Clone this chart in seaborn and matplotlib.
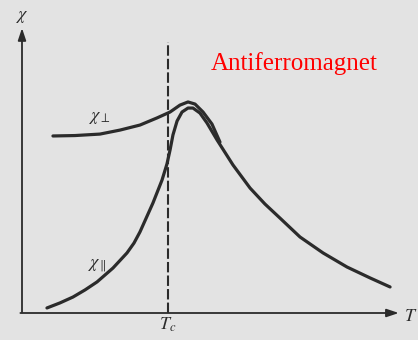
import matplotlib
matplotlib.use("Agg")
import matplotlib.pyplot as plt
import seaborn as sns
import pandas as pd

# temperature in units of Tc, susceptibility in arbitrary units
T_par = [0.171, 0.260, 0.349, 0.432, 0.514, 0.623, 0.719, 0.767, 0.808, 0.897,
         0.959, 0.993, 1.014, 1.034, 1.062, 1.096, 1.137, 1.171, 1.219, 1.267,
         1.336, 1.445, 1.562, 1.664, 1.767, 1.904, 2.062, 2.226, 2.384, 2.521]
chi_par = [0.024, 0.048, 0.076, 0.110, 0.148, 0.214, 0.286, 0.333, 0.386, 0.524,
           0.633, 0.710, 0.776, 0.848, 0.914, 0.957, 0.976, 0.976, 0.952, 0.905,
           0.824, 0.705, 0.595, 0.519, 0.452, 0.362, 0.286, 0.219, 0.167, 0.124]
T_perp = [0.212, 0.363, 0.534, 0.671, 0.808, 0.925, 1.014, 1.082, 1.137, 1.185,
          1.240, 1.301, 1.356]
chi_perp = [0.843, 0.845, 0.852, 0.871, 0.895, 0.929, 0.957, 0.990, 1.005, 0.995,
            0.957, 0.900, 0.814]
Tc = 1.0
title = "Antiferromagnet"

sns.set_theme(style="white")
plt.rcParams["mathtext.fontset"] = "stix"
bg = "#e3e3e3"
ink = "#2b2b2b"

fig = plt.figure(figsize=(4.18, 3.40), dpi=100, facecolor=bg)
ax = fig.add_axes([0, 0, 1, 1])
ax.set_facecolor(bg)

df_par = pd.DataFrame({"T": T_par, "chi": chi_par})
df_perp = pd.DataFrame({"T": T_perp, "chi": chi_perp})
for d in (df_par, df_perp):
    sns.lineplot(data=d, x="T", y="chi", sort=False, ax=ax, color=ink, lw=2.3,
                 solid_joinstyle="round", solid_capstyle="round")

ax.set_xlim(-22 / 146, (418 - 22) / 146)
ax.set_ylim(-(340 - 313) / 210, 313 / 210)

# axes with arrows
ax.annotate("", xy=(2.60, 0), xytext=(-0.03, 0),
            arrowprops=dict(arrowstyle="-|>,head_length=0.6,head_width=0.2", color=ink, lw=1.3))
ax.annotate("", xy=(0, 1.37), xytext=(0, -0.01),
            arrowprops=dict(arrowstyle="-|>,head_length=0.6,head_width=0.2", color=ink, lw=1.3))

# Tc dashed line
ax.plot([Tc, Tc], [0, 1.29], color=ink, lw=1.5, ls=(0, (5, 1.5)))

serif = ["Liberation Serif", "DejaVu Serif"]
ax.text(0.0, 1.415, r"$\chi$", ha="center", va="center", fontsize=13, color=ink)
ax.text(2.66, -0.012, r"$T$", ha="center", va="center", fontsize=13, color=ink)
ax.text(Tc, -0.058, r"$\mathbf{\mathit{T_c}}$", ha="center", va="center", fontsize=13, color=ink)
ax.text(0.534, 0.935, r"$\chi_{\perp}$", ha="center", va="center", fontsize=13, color=ink)
ax.text(0.514, 0.225, r"$\chi_{\parallel}$", ha="center", va="center", fontsize=13, color=ink)
ax.text(1.863, 1.157, title, ha="center", va="baseline", fontsize=18,
        color="red", family=serif)

ax.axis("off")
fig.savefig("out.png", dpi=100, facecolor=bg)
